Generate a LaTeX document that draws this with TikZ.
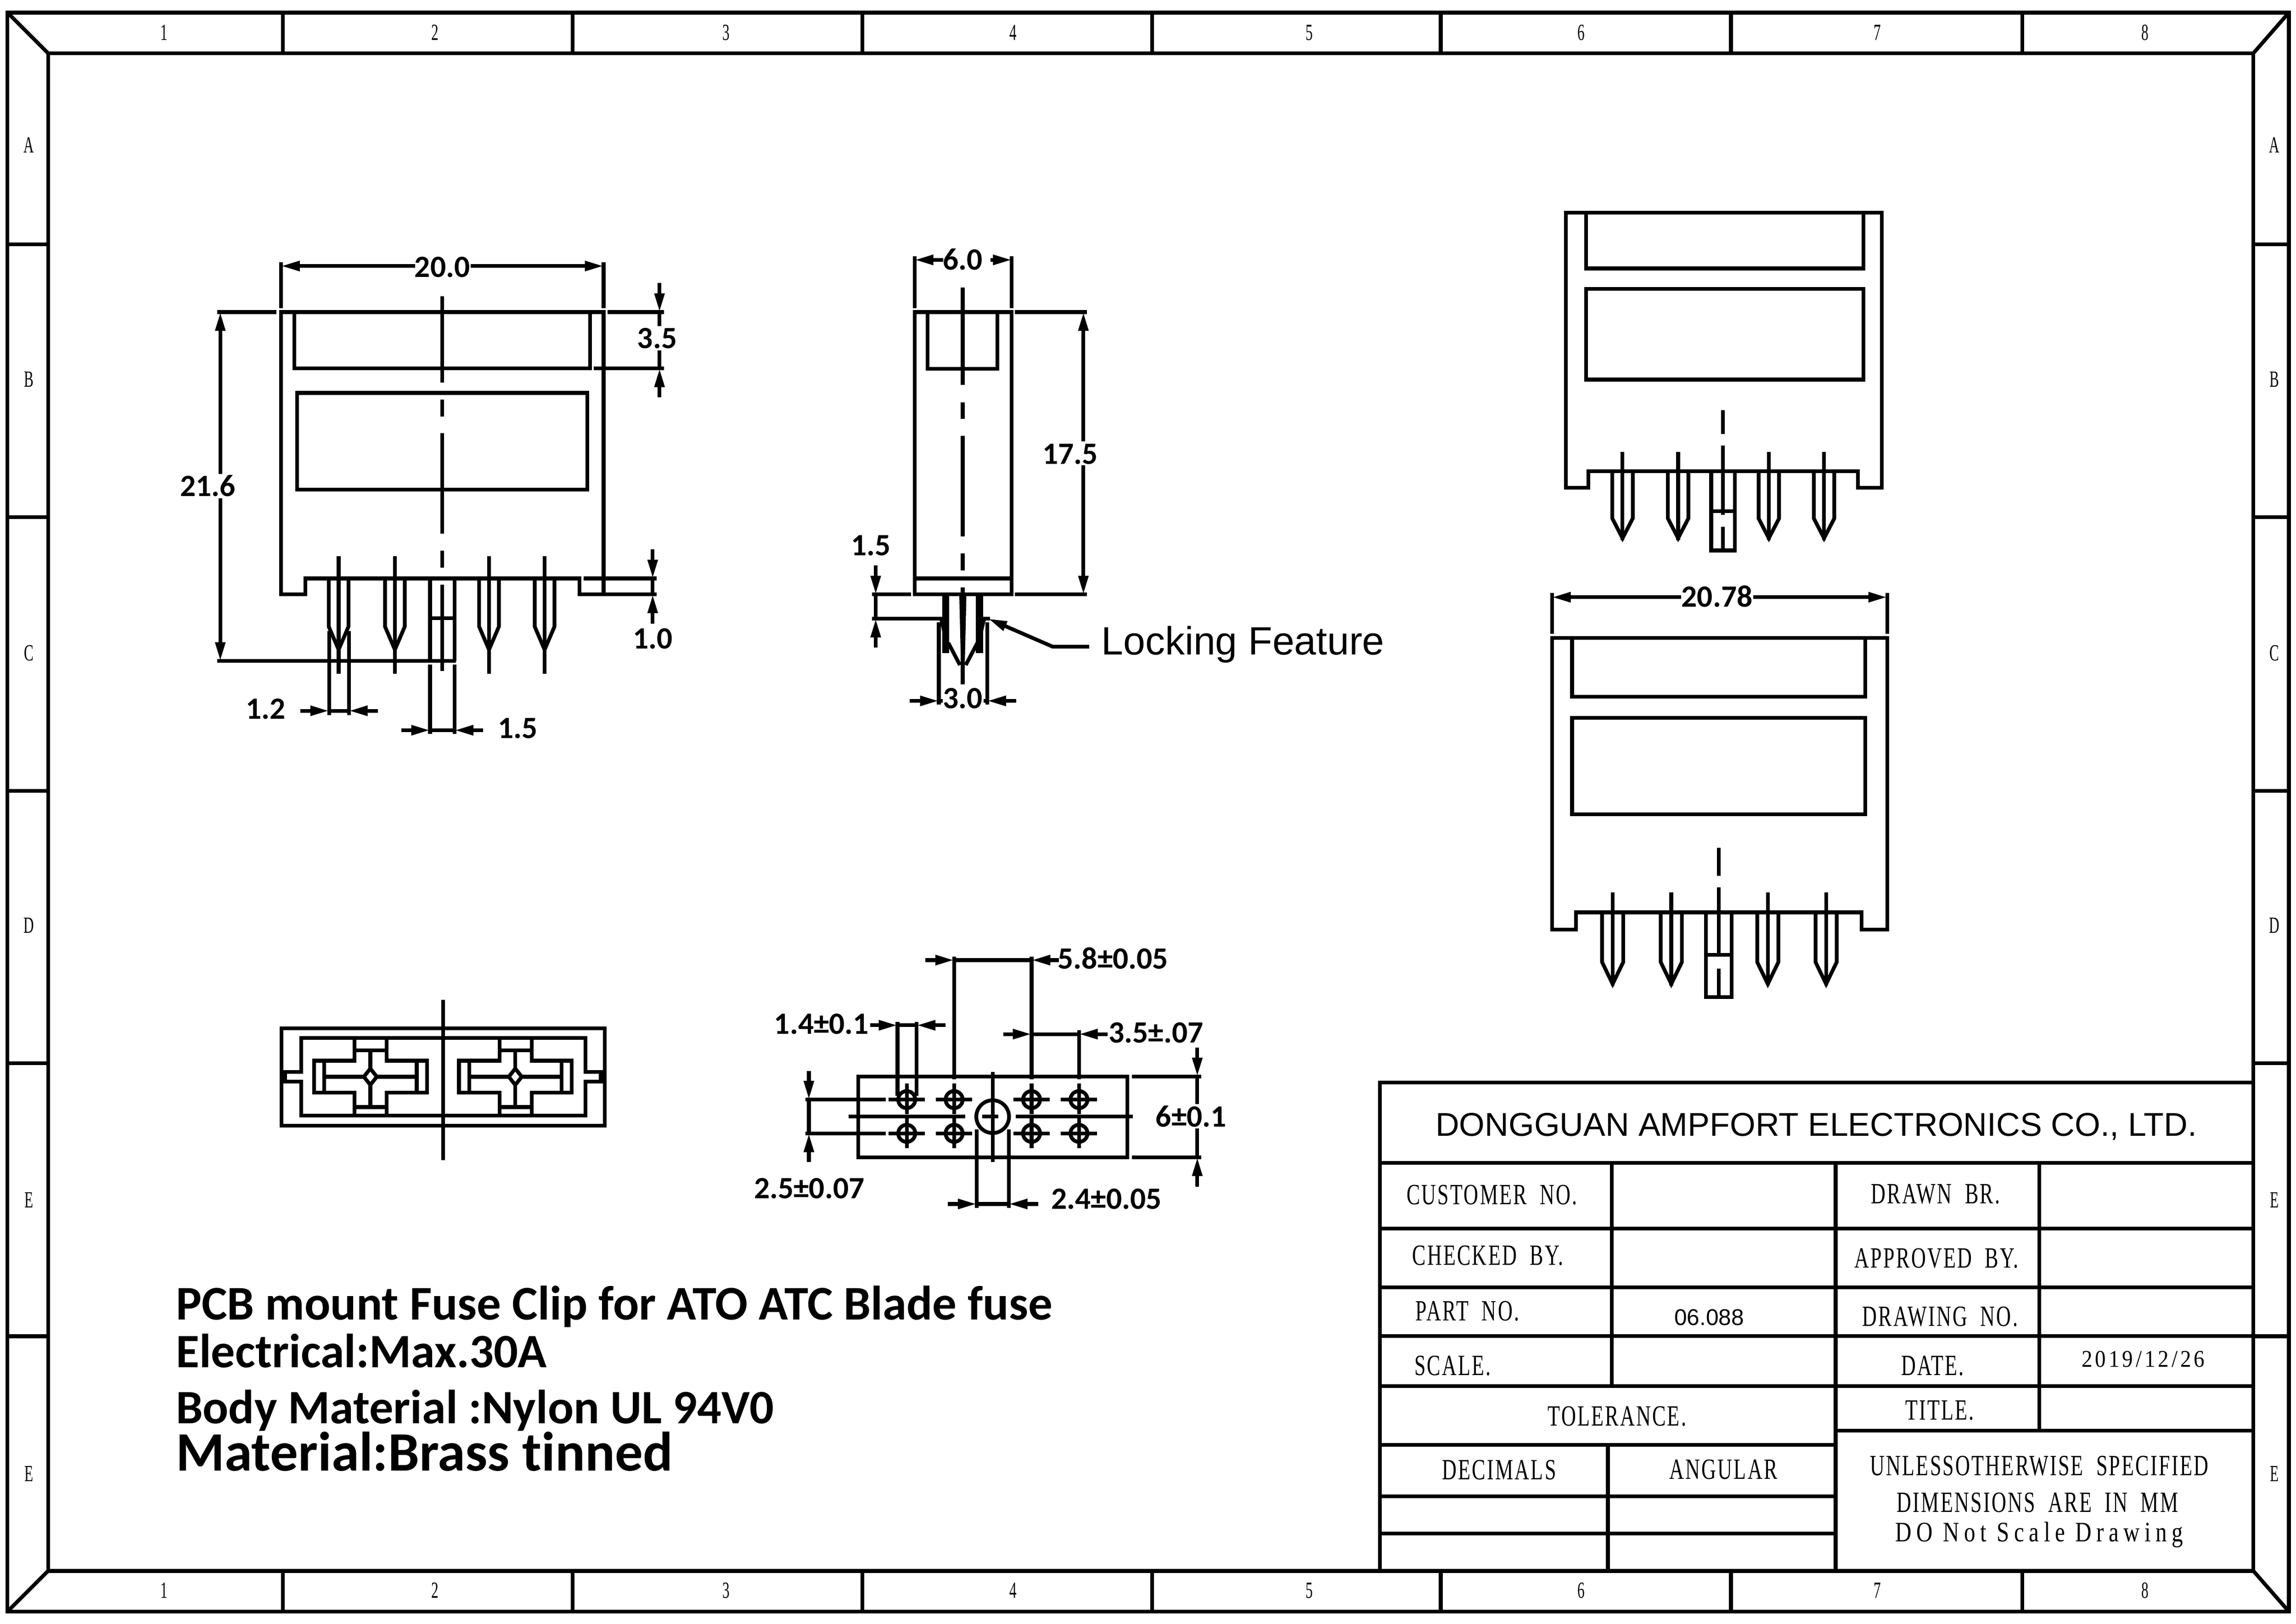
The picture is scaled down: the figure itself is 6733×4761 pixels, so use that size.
\documentclass[tikz,border=0pt]{standalone}
\usepackage{fontspec}
\usepackage{tikz}
\usetikzlibrary{arrows.meta}

\newfontfamily\dimfamily[Ligatures=NoCommon]{Carlito}
\newfontfamily\arialfamily{Liberation Sans}
\newfontfamily\blockfamily[LetterSpace=5,FakeStretch=0.69]{Liberation Serif}
\newfontfamily\bandfamily[FakeStretch=0.62]{Liberation Serif}
\newfontfamily\datefamily[LetterSpace=11.5,FakeStretch=0.9]{Liberation Serif}
\newfontfamily\notefamily[LetterSpace=17,FakeStretch=0.8]{Liberation Serif}

\tikzset{
	lbl/.style={inner sep=0pt, outer sep=0pt},
	bandlbl/.style={lbl, font=\bandfamily\fontsize{19.3}{22}\selectfont},
	blocklbl/.style={lbl, font=\blockfamily\fontsize{24.5}{28}\selectfont},
	dimlbl/.style={lbl, font=\dimfamily\bfseries\fontsize{25.8}{28}\selectfont},
	notelbl/.style={lbl, anchor=base west, font=\dimfamily\bfseries\fontsize{40}{44}\selectfont}
}

\begin{document}
\begin{tikzpicture}[x=0.01cm, y=-0.01cm, line width=0.11cm, >={Triangle[length=0.55cm,width=0.28cm]}]
	\useasboundingbox (0,0) rectangle (6733,4761);

	% sheet frame
	\draw (22,37) rectangle (6712,4725);
	\draw (141,156) rectangle (6608,4606);
	\draw (22,37) -- (141,156);
	\draw (6712,37) -- (6608,156);
	\draw (22,4725) -- (141,4606);
	\draw (6712,4725) -- (6608,4606);
	\foreach \x in {829,1679,2529,3379,4225,5076,5930} {
		\draw (\x,37) -- (\x,156);
		\draw (\x,4606) -- (\x,4725);
	}
	\foreach \y in {716,1516,2319,3117,3918} {
		\draw (22,\y) -- (141,\y);
		\draw (6608,\y) -- (6712,\y);
	}
	\foreach \x/\t in {481/1,1275/2,2130/3,2971/4,3839/5,4637/6,5505/7,6290/8} {
		\node (top\t) [bandlbl] at (\x,96) {\t};
		\node (bot\t) [bandlbl] at (\x,4663) {\t};
	}
	\foreach \y/\t/\n in {425/A/1,1112/B/2,1915/C/3,2714/D/4,3518/E/5,4321/E/6} {
		\node (lft\n) [bandlbl] at (85,\y) {\t};
		\node (rgt\n) [bandlbl] at (6670,\y) {\t};
	}

	% title block
	\draw (4046,4606) -- (4046,3174) -- (6608,3174);
	\foreach \y in {3410,3602,3774,3917,4064} {
		\draw (4046,\y) -- (6608,\y);
	}
	\draw (5383,4195) -- (6608,4195);
	\foreach \y in {4236,4387,4496} {
		\draw (4046,\y) -- (5383,\y);
	}
	\draw (4727,3410) -- (4727,4064);
	\draw (5383,3410) -- (5383,4606);
	\draw (5980,3410) -- (5980,4195);
	\draw (4715,4236) -- (4715,4606);

	\node (company) [lbl, font=\arialfamily\fontsize{27.45}{30}\selectfont] at (5326,3303) {DONGGUAN AMPFORT ELECTRONICS CO., LTD.};
	\node (customer) [blocklbl] at (4375,3504) {CUSTOMER\ \ NO.};
	\node (drawn) [blocklbl] at (5676,3501) {DRAWN\ \ BR.};
	\node (checked) [blocklbl] at (4363,3681) {CHECKED\ \ BY.};
	\node (approved) [blocklbl] at (5679,3690) {APPROVED\ \ BY.};
	\node (part) [blocklbl] at (4303,3844) {PART\ \ NO.};
	\node (partno) [lbl, font=\arialfamily\fontsize{19}{22}\selectfont] at (5012,3863) {06.088};
	\node (drawing) [blocklbl] at (5689,3860) {DRAWING\ \ NO.};
	\node (scale) [blocklbl] at (4260,4004) {SCALE.};
	\node (date) [blocklbl] at (5667,4004) {DATE.};
	\node (dateval) [lbl, font=\datefamily\fontsize{20}{24}\selectfont] at (6285,3985) {2019/12/26};
	\node (title) [blocklbl] at (5688,4135) {TITLE.};
	\node (tolerance) [blocklbl] at (4742,4153) {TOLERANCE.};
	\node (decimals) [blocklbl] at (4396,4310) {DECIMALS};
	\node (angular) [blocklbl] at (5054,4308) {ANGULAR};
	\node (unless) [blocklbl] at (5980,4298) {UNLESSOTHERWISE\ \ SPECIFIED};
	\node (inmm) [blocklbl] at (5975,4405) {DIMENSIONS\ \ ARE\ \ IN\ \ MM};
	\node (noscale) [lbl, font=\notefamily\fontsize{23.5}{28}\selectfont] at (5980,4500) {DO Not Scale Drawing};

	% front view
	\draw (824,915) -- (1770,915) -- (1770,1743) -- (1699,1743) -- (1699,1696) -- (896,1696) -- (896,1743) -- (824,1743) -- cycle;
	\draw (863,915) -- (863,1080) -- (1730,1080) -- (1730,915);
	\draw (871,1152) rectangle (1722,1436);
	\foreach \a/\b in {869/1122,1172/1221,1270/1565,1615/1665,1714/1967} {
		\draw (1297,\a) -- (1297,\b);
	}
	\foreach \px in {993,1158,1434,1597} {
		\draw ({\px-29},1696) -- ({\px-29},1837) -- (\px,1905) -- ({\px+29},1837) -- ({\px+29},1696);
		\draw (\px,1631) -- (\px,1976);
	}
	\draw (1261,1696) -- (1261,1938);
	\draw (1333,1696) -- (1333,1938);
	\draw (1261,1813) -- (1333,1813);

	\node (d200) [dimlbl] at (1297,783) {20.0};
	\draw (824,769) -- (824,903);
	\draw (1770,769) -- (1770,903);
	\draw[<-] (824,780) -- (1217,780);
	\draw[<-] (1770,780) -- (1380,780);

	\node (d216) [dimlbl] at (609,1425) {21.6};
	\draw (637,915) -- (811,915);
	\draw (637,1938) -- (1337,1938);
	\draw[<-] (646,915) -- (646,1390);
	\draw[<-] (646,1938) -- (646,1461);

	\node (d35) [dimlbl] at (1927,992) {3.5};
	\draw (1782,915) -- (1947,915);
	\draw (1741,1080) -- (1947,1080);
	\draw[->] (1934,830) -- (1934,915);
	\draw[->] (1934,1165) -- (1934,1080);
	\draw (1934,915) -- (1934,956);
	\draw (1934,1028) -- (1934,1080);

	\node (d10) [dimlbl] at (1914,1872) {1.0};
	\draw (1711,1696) -- (1925,1696);
	\draw (1699,1743) -- (1925,1743);
	\draw[->] (1914,1610) -- (1914,1696);
	\draw[->] (1914,1829) -- (1914,1743);
	\draw (1914,1696) -- (1914,1743);

	\node (d12) [dimlbl] at (779,2079) {1.2};
	\draw (965,1850) -- (965,2096);
	\draw (1023,1850) -- (1023,2096);
	\draw[->] (881,2084) -- (965,2084);
	\draw[->] (1108,2084) -- (1023,2084);
	\draw (965,2084) -- (1023,2084);

	\node (d15a) [dimlbl] at (1518,2135) {1.5};
	\draw (1261,1949) -- (1261,2152);
	\draw (1333,1949) -- (1333,2152);
	\draw[->] (1177,2141) -- (1261,2141);
	\draw[->] (1417,2141) -- (1333,2141);
	\draw (1261,2141) -- (1333,2141);

	% side view
	\draw (2682,915) rectangle (2967,1743);
	\draw (2682,1696) -- (2967,1696);
	\draw (2720,915) -- (2720,1081) -- (2925,1081) -- (2925,915);
	\foreach \a/\b in {843/1129,1179/1228,1278/1573,1622/1672,1722/2006} {
		\draw (2823,\a) -- (2823,\b);
	}
	\fill (2763,1743) rectangle (2784,1915);
	\fill (2862,1743) rectangle (2883,1915);
	\fill (2813,1743) -- (2834,1743) -- (2829,1955) -- (2823,1960) -- (2818,1955) -- cycle;
	\draw (2781,1885) -- (2815,1950);
	\draw (2866,1885) -- (2832,1950);
	\draw (2761,1818) -- (2772,1866);
	\draw (2885,1818) -- (2874,1866);

	\node (d60) [dimlbl] at (2823,760) {6.0};
	\draw (2682,752) -- (2682,904);
	\draw (2967,752) -- (2967,904);
	\draw[<-] (2682,762) -- (2766,762);
	\draw[<-] (2967,762) -- (2905,762);

	\node (d175) [dimlbl] at (3138,1331) {17.5};
	\draw (2976,915) -- (3188,915);
	\draw (2976,1743) -- (3188,1743);
	\draw[<-] (3177,915) -- (3177,1294);
	\draw[<-] (3177,1743) -- (3177,1364);

	\node (d15b) [dimlbl] at (2554,1599) {1.5};
	\draw (2557,1743) -- (2671,1743);
	\draw (2557,1814) -- (2764,1814);
	\draw[->] (2568,1658) -- (2568,1743);
	\draw[->] (2568,1899) -- (2568,1814);
	\draw (2568,1743) -- (2568,1814);

	\node (d30) [dimlbl] at (2823,2048) {3.0};
	\draw (2753,1824) -- (2753,2066);
	\draw (2895,1824) -- (2895,2066);
	\draw[->] (2668,2055) -- (2753,2055);
	\draw[->] (2980,2055) -- (2895,2055);
	\draw (2753,2055) -- (2765,2055);
	\draw (2885,2055) -- (2895,2055);

	\node (lockfeat) [lbl, anchor=base west, font=\arialfamily\fontsize{32.9}{36}\selectfont] at (3230,1920) {Locking Feature};
	\coordinate (lockelbow) at (3087,1896);
	\coordinate (locktip) at (2898,1814);
	\draw (2883,1814) -- (2903,1814);
	\draw[->] (lockfeat.west |- lockelbow) ++(-36,0) -- (lockelbow) -- (locktip);

	% top right view
	\draw (4592,623) -- (5518,623) -- (5518,1430) -- (5448,1430) -- (5448,1382) -- (4658,1382) -- (4658,1430) -- (4592,1430) -- cycle;
	\draw (4651,623) -- (4651,787) -- (5464,787) -- (5464,623);
	\draw (4651,847) rectangle (5464,1113);
	\foreach \a/\b in {1203/1272,1306/1510,1545/1614} {
		\draw (5052,\a) -- (5052,\b);
	}
	\foreach \px in {4758,4921,5187,5349} {
		\draw ({\px-30},1382) -- ({\px-30},1520) -- (\px,1578) -- ({\px+30},1520) -- ({\px+30},1382);
		\draw (\px,1325) -- (\px,1583);
	}
	\draw (5018,1382) rectangle (5087,1614);
	\draw (5018,1499) -- (5087,1499);

	% lower right view
	\draw (4551,1870) -- (5534,1870) -- (5534,2726) -- (5459,2726) -- (5459,2675) -- (4622,2675) -- (4622,2726) -- (4551,2726) -- cycle;
	\draw (4610,1870) -- (4610,2043) -- (5470,2043) -- (5470,1870);
	\draw (4610,2105) rectangle (5470,2387);
	\foreach \a/\b in {2486/2568,2601/2803,2840/2919} {
		\draw (5040,\a) -- (5040,\b);
	}
	\foreach \px in {4729,4901,5184,5355} {
		\draw ({\px-31},2675) -- ({\px-31},2821) -- (\px,2885) -- ({\px+31},2821) -- ({\px+31},2675);
		\draw (\px,2616) -- (\px,2890);
	}
	\draw (5003,2675) rectangle (5078,2923);
	\draw (5003,2800) -- (5078,2800);

	\node (d2078) [dimlbl] at (5035,1748) {20.78};
	\draw (4551,1739) -- (4551,1858);
	\draw (5534,1739) -- (5534,1858);
	\draw[<-] (4551,1751) -- (4930,1751);
	\draw[<-] (5534,1751) -- (5141,1751);

	% end view
	\draw (826,3015) rectangle (1773,3300);
	\draw (883,3043) -- (1717,3043) -- (1717,3143) -- (1762,3143) -- (1762,3171) -- (1717,3171) -- (1717,3271) -- (883,3271) -- (883,3171) -- (836,3171) -- (836,3143) -- (883,3143) -- cycle;
	\draw (1299,2931) -- (1299,3402);
	\foreach \dx in {0,425} {
		\begin{scope}[xshift=\dx*0.01cm]
			\draw (1040,3043) -- (1040,3110) -- (921,3110) -- (921,3204) -- (1040,3204) -- (1040,3271);
			\draw (1134,3043) -- (1134,3110) -- (1252,3110) -- (1252,3204) -- (1134,3204) -- (1134,3271);
			\draw (1040,3080) -- (1134,3080);
			\draw (1040,3246) -- (1134,3246);
			\draw (951,3110) -- (951,3204);
			\draw (1222,3110) -- (1222,3204);
			\draw (951,3157) -- (1222,3157);
			\draw (1086,3080) -- (1086,3246);
			\draw[fill=white] (1067,3157) -- (1086,3133) -- (1105,3157) -- (1086,3181) -- cycle;
		\end{scope}
	}

	% hole pattern
	\draw (2517,3156) rectangle (3306,3393);
	\foreach \hx in {2659,2798,3025,3164} {
		\foreach \hy in {3224,3323} {
			\draw (\hx,\hy) circle [radius=25];
			\draw ({\hx-53},\hy) -- ({\hx+53},\hy);
			\draw (\hx,{\hy-47}) -- (\hx,{\hy+43});
		}
	}
	\draw (2911,3274) circle [radius=48];
	\draw (2488,3274) -- (2831,3274);
	\draw (2880,3274) -- (2928,3274);
	\draw (2979,3274) -- (3322,3274);
	\draw (2911,3143) -- (2911,3407);

	\node (d58) [dimlbl] at (3264,2809) {5.8±0.05};
	\draw (2798,2805) -- (2798,3165);
	\draw (3025,2805) -- (3025,3165);
	\draw[->] (2714,2815) -- (2798,2815);
	\draw[->] (3105,2815) -- (3025,2815);
	\draw (2798,2815) -- (3025,2815);

	\node (d14) [dimlbl] at (2409,3003) {1.4±0.1};
	\draw (2632,2996) -- (2632,3213);
	\draw (2688,2996) -- (2688,3213);
	\draw[->] (2552,3006) -- (2632,3006);
	\draw[->] (2772,3006) -- (2688,3006);
	\draw (2632,3006) -- (2688,3006);

	\node (d35b) [dimlbl] at (3390,3028) {3.5±.07};
	\draw (3164,3021) -- (3164,3165);
	\draw[->] (2942,3032) -- (3025,3032);
	\draw[->] (3248,3032) -- (3164,3032);
	\draw (3025,3032) -- (3164,3032);

	\node (d6) [dimlbl] at (3493,3273) {6±0.1};
	\draw (3319,3156) -- (3523,3156);
	\draw (3319,3393) -- (3523,3393);
	\draw[->] (3511,3071) -- (3511,3156);
	\draw[->] (3511,3479) -- (3511,3393);
	\draw (3511,3156) -- (3511,3237);
	\draw (3511,3308) -- (3511,3393);

	\node (d25) [dimlbl] at (2373,3484) {2.5±0.07};
	\draw (2362,3224) -- (2598,3224);
	\draw (2362,3323) -- (2598,3323);
	\draw[->] (2372,3140) -- (2372,3224);
	\draw[->] (2372,3407) -- (2372,3323);
	\draw (2372,3224) -- (2372,3323);

	\node (d24) [dimlbl] at (3245,3515) {2.4±0.05};
	\draw (2864,3311) -- (2864,3541);
	\draw (2958,3311) -- (2958,3541);
	\draw[->] (2779,3530) -- (2864,3530);
	\draw[->] (3044,3530) -- (2958,3530);
	\draw (2864,3530) -- (2958,3530);

	% notes
	\node (note1) [notelbl, font=\dimfamily\bfseries\fontsize{40.3}{44}\selectfont] at (516,3870) {PCB mount Fuse Clip for ATO ATC Blade fuse};
	\node (note2) [notelbl] at (516,4010) {Electrical:Max.30A};
	\node (note3) [notelbl] at (516,4174) {Body Material :Nylon UL 94V0};
	\node (note4) [notelbl, font=\dimfamily\bfseries\fontsize{46.4}{50}\selectfont] at (516,4312) {Material:Brass tinned};
\end{tikzpicture}
\end{document}
